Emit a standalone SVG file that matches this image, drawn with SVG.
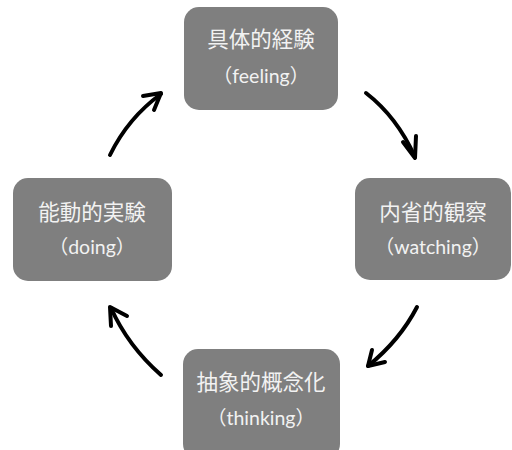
<svg xmlns="http://www.w3.org/2000/svg" width="512" height="450" viewBox="0 0 512 450">
<style>
.box{fill:#7f7f7f;}
.t{fill:#f2f2f2;font-family:Lato,"Noto Sans CJK JP",sans-serif;text-anchor:middle;}
.j{font-size:21.5px;}
.e{font-size:19.5px;}
.c{fill:none;stroke:#000;stroke-width:4;stroke-linecap:round;stroke-linejoin:round;}
</style>
<rect width="512" height="450" fill="#fff"/>
<g id="connectors">
<path class="c" d="M366,93 Q397,117 415,157"/>
<path class="c" d="M403,142 L415,158 L416,136"/>
<path class="c" d="M417,307 Q400,340 368,366"/>
<path class="c" d="M372,350 L368,366 L385,362"/>
<path class="c" d="M161,375 Q128,346 111,308"/>
<path class="c" d="M111,326 L110,307 L127,316"/>
<path class="c" d="M110,155 Q128,118 161,94"/>
<path class="c" d="M143,96 L161,93 L154,110"/>
</g>
<g id="n1">
<rect class="box" x="184" y="7" width="154" height="103" rx="15"/>
<text class="t j" x="261" y="47">具体的経験</text>
<text class="t e" x="261" y="83">（feeling）</text>
</g>
<g id="n2">
<rect class="box" x="355" y="178" width="156" height="102" rx="15"/>
<text class="t j" x="433" y="220">内省的観察</text>
<text class="t e" x="433" y="254">（watching）</text>
</g>
<g id="n3">
<rect class="box" x="183" y="349" width="157" height="110" rx="15"/>
<text class="t j" x="261" y="390">抽象的概念化</text>
<text class="t e" x="261" y="425">（thinking）</text>
</g>
<g id="n4">
<rect class="box" x="13" y="178" width="159" height="103" rx="15"/>
<text class="t j" x="92" y="220">能動的実験</text>
<text class="t e" x="92" y="254">（doing）</text>
</g>
</svg>
